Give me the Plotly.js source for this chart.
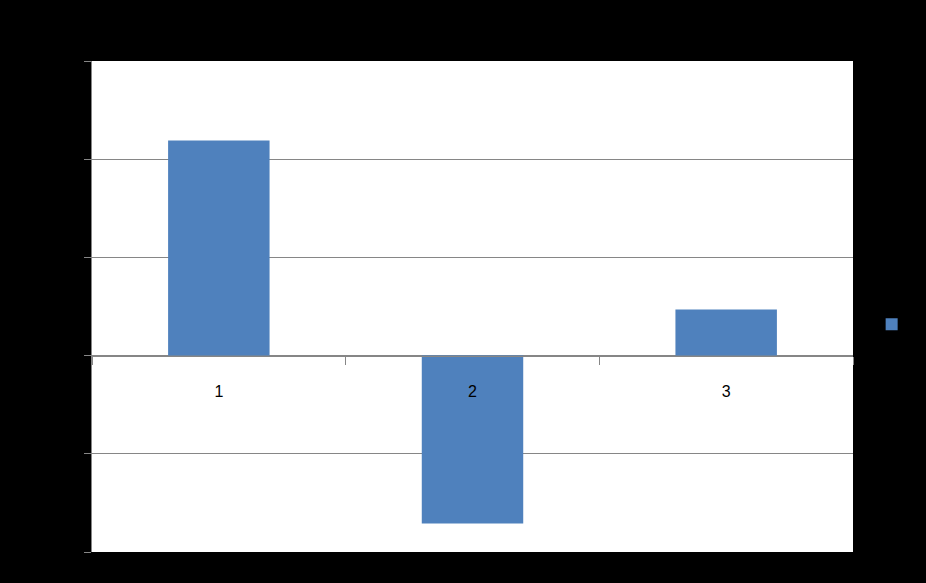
<!DOCTYPE html>
<html>
<head>
<meta charset="utf-8">
<script src="https://cdn.plot.ly/plotly-3.0.1.min.js"></script>
<style>html,body{margin:0;padding:0;background:#000;}#chart{width:926px;height:583px;}</style>
</head>
<body>
<div id="chart"></div>
<script>
const categories = ["1", "2", "3"];
const values = [2.19, -1.71, 0.47];
const seriesName = " ";

const trace = {
  type: "bar",
  x: categories,
  y: values,
  name: seriesName,
  width: 0.4,
  marker: {color: "#4F81BD"},
  showlegend: true,
  hoverinfo: "x+y"
};

const layout = {
  width: 926, height: 583,
  paper_bgcolor: "#000000",
  plot_bgcolor: "#FFFFFF",
  margin: {l: 92, r: 73, t: 61, b: 31, pad: 0, autoexpand: false},
  font: {family: "Liberation Sans, Arial, sans-serif", color: "#000000", size: 16},
  xaxis: {
    type: "category",
    anchor: "free",
    position: 0.4,
    tickson: "boundaries",
    ticks: "outside",
    ticklen: 8,
    tickcolor: "#868686",
    showline: true,
    linecolor: "#868686",
    linewidth: 1,
    showgrid: false,
    zeroline: false,
    ticklabelstandoff: 21,
    tickfont: {size: 16, color: "#000000"}
  },
  yaxis: {
    range: [-2, 3],
    dtick: 1,
    ticks: "outside",
    ticklen: 7,
    tickcolor: "#868686",
    showline: true,
    linecolor: "#868686",
    gridcolor: "#868686",
    gridwidth: 1,
    zeroline: false,
    tickfont: {size: 14, color: "#000000"}
  },
  showlegend: true,
  legend: {
    x: 1.0245, xanchor: "left",
    y: 0.463, yanchor: "middle",
    bgcolor: "rgba(0,0,0,0)",
    font: {size: 14, color: "#000000"}
  },
  bargap: 0.6
};

Plotly.newPlot("chart", [trace], layout, {displayModeBar: false, staticPlot: true});
</script>
</body>
</html>
